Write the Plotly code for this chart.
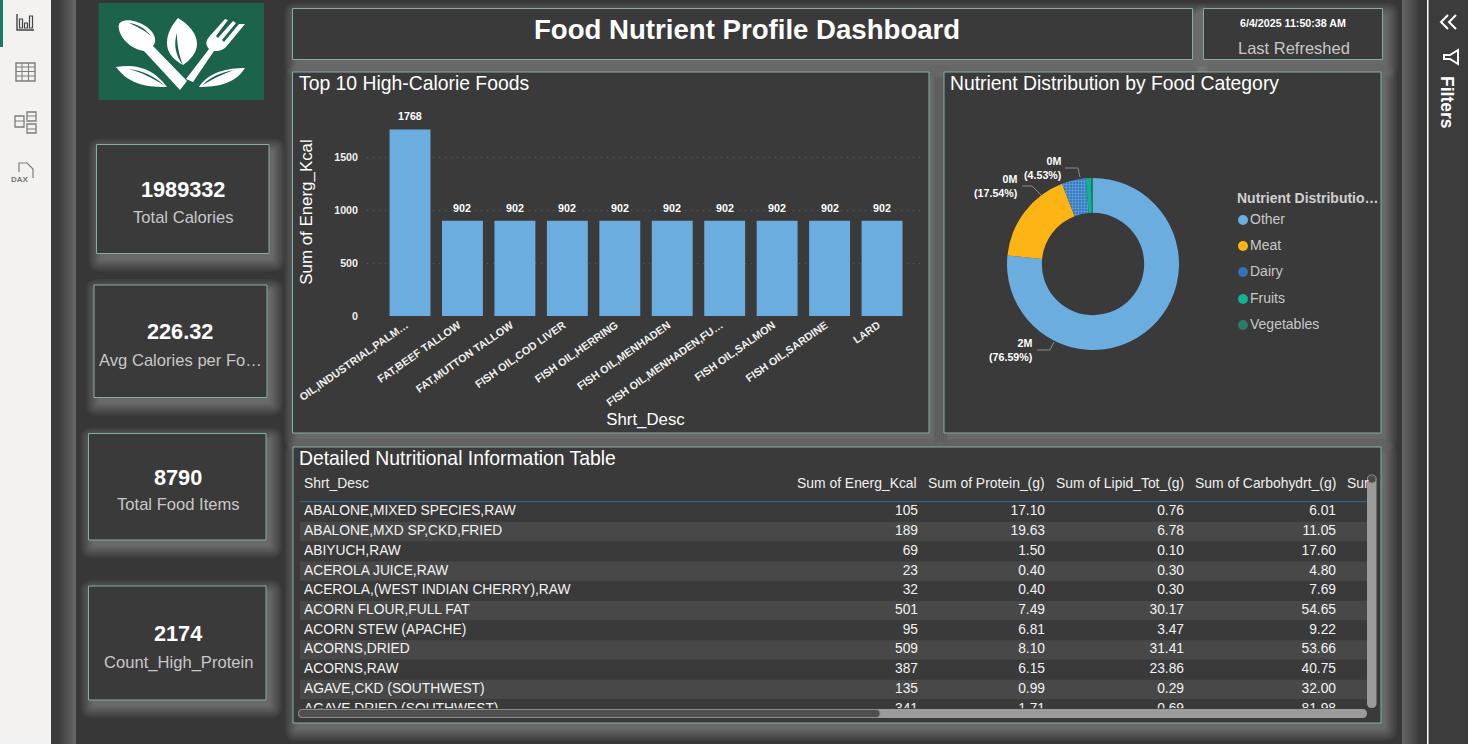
import re
import plotly.graph_objects as go

# ---------- data ----------
foods = ["OIL,INDUSTRIAL,PALM…", "FAT,BEEF TALLOW", "FAT,MUTTON TALLOW", "FISH OIL,COD LIVER",
         "FISH OIL,HERRING", "FISH OIL,MENHADEN", "FISH OIL,MENHADEN,FU…", "FISH OIL,SALMON",
         "FISH OIL,SARDINE", "LARD"]
food_kcal = [1768, 902, 902, 902, 902, 902, 902, 902, 902, 902]

donut_labels = ["Other", "Meat", "Dairy", "Fruits", "Vegetables"]
donut_values = [1523630, 348929, 90117, 19900, 6756]
donut_colors = ["#6CADE0", "#FDB515", "#3172B8", "#0DB48F", "#2A7C68"]

table_names = ["ABALONE,MIXED SPECIES,RAW", "ABALONE,MXD SP,CKD,FRIED", "ABIYUCH,RAW", "ACEROLA JUICE,RAW",
               "ACEROLA,(WEST INDIAN CHERRY),RAW", "ACORN FLOUR,FULL FAT", "ACORN STEW (APACHE)",
               "ACORNS,DRIED", "ACORNS,RAW", "AGAVE,CKD (SOUTHWEST)", "AGAVE,DRIED (SOUTHWEST)"]
table_kcal = [105, 189, 69, 23, 32, 501, 95, 509, 387, 135, 341]
table_protein = [17.10, 19.63, 1.50, 0.40, 0.40, 7.49, 6.81, 8.10, 6.15, 0.99, 1.71]
table_lipid = [0.76, 6.78, 0.10, 0.30, 0.30, 30.17, 3.47, 31.41, 23.86, 0.29, 0.69]
table_carb = [6.01, 11.05, 17.60, 4.80, 7.69, 54.65, 9.22, 53.66, 40.75, 32.00, 81.98]
table_headers = ["Shrt_Desc", "Sum of Energ_Kcal", "Sum of Protein_(g)", "Sum of Lipid_Tot_(g)",
                 "Sum of Carbohydrt_(g)", "Sur"]

cards = [("1989332", "Total Calories"), ("226.32", "Avg Calories per Fo…"),
         ("8790", "Total Food Items"), ("2174", "Count_High_Protein")]

# ---------- pixel helpers ----------
W, H = 1468, 744
FONT = "Liberation Sans"
def fx(x): return x / W
def fy(y): return 1 - y / H

def conv_path(p):
    n = [0]
    def rep(m):
        v = float(m.group(0))
        r = fx(v) if n[0] % 2 == 0 else fy(v)
        n[0] += 1
        return f"{r:.5f}"
    return re.sub(r"-?\d+\.?\d*", rep, p)

shapes, annots = [], []
def rect(x0, y0, x1, y1, fill=None, line=None, lw=1, layer="below"):
    shapes.append(dict(type="rect", xref="paper", yref="paper", x0=fx(x0), x1=fx(x1), y0=fy(y1), y1=fy(y0),
                       fillcolor=fill or "rgba(0,0,0,0)", line=dict(color=line or "rgba(0,0,0,0)", width=lw if line else 0),
                       layer=layer))
def path(p, fill=None, line=None, lw=1, layer="below"):
    shapes.append(dict(type="path", xref="paper", yref="paper", path=conv_path(p),
                       fillcolor=fill or "rgba(0,0,0,0)", line=dict(color=line or "rgba(0,0,0,0)", width=lw if line else 0),
                       layer=layer))
def rrect(x0, y0, x1, y1, r):
    return (f"M{x0+r} {y0} L{x1-r} {y0} Q{x1} {y0} {x1} {y0+r} L{x1} {y1-r} Q{x1} {y1} {x1-r} {y1} "
            f"L{x0+r} {y1} Q{x0} {y1} {x0} {y1-r} L{x0} {y0+r} Q{x0} {y0} {x0+r} {y0} Z")
def circle(cx, cy, r, fill, layer="below"):
    shapes.append(dict(type="circle", xref="paper", yref="paper", x0=fx(cx-r), x1=fx(cx+r), y0=fy(cy+r), y1=fy(cy-r),
                       fillcolor=fill, line=dict(width=0), layer=layer))
def text(x, y, s, size, color="#ffffff", bold=False, anchor="center", angle=0):
    annots.append(dict(xref="paper", yref="paper", x=fx(x), y=fy(y), text=f"<b>{s}</b>" if bold else s,
                       showarrow=False, xanchor=anchor, yanchor="middle", textangle=angle,
                       font=dict(family=FONT, size=size, color=color)))

# ---------- page chrome ----------
rect(0, 0, 51, H, "#f3f2f1")
rect(51, 0, 76, H, "#3c3c3c")
for i in range(1, 9):
    rect(76 - i * 2, 0, 76, H, "rgba(255,255,255,0.032)")
rect(76, 0, 1402, H, "#373737")
rect(1402, 0, 1427, H, "#3a3a3a")
for i in range(1, 9):
    rect(1402, 0, 1402 + i * 2, H, "rgba(255,255,255,0.032)")
rect(1428, 0, H * 2, H, "#3c3c3c")
rect(1427, 0, 1428.5, H, "#ffffff")

panels = [(292.5, 8.5, 1192.5, 59.5), (1203.5, 8.5, 1382.5, 59.5), (292.5, 72, 929, 433), (944, 72, 1381, 433),
          (293, 447, 1381, 723), (96.5, 144.5, 269, 253.5), (94, 285, 267, 397.5), (88.5, 433.5, 266, 540),
          (88.5, 586, 266, 700)]
for (a, b, c, d) in panels:
    for k in range(7):
        e = 12 - 2 * k
        path(rrect(a + 4 - e, b + 6 - e, c + 4 + e, d + 6 + e, max(e, 1)), "rgba(255,255,255,0.045)")
for (a, b, c, d) in panels:
    rect(a, b, c, d, "#3a3a3a", "#83AEA6", 1)

# left rail icons
rect(0, 0, 3, 47, "#1b7a62")
g = "#7d7d7d"
path("M17 14 L17 30 L34 30", None, "#444444", 1.4)
for a, b in [(19.5, 19), (24.5, 23), (29.5, 16)]:
    rect(a, b, a + 3, 28, None, "#444444", 1.2)
rect(16, 63, 35, 81, None, g, 1.4)
for y in (67, 71.5, 76):
    path(f"M16 {y} L35 {y}", None, g, 1)
for x in (22, 28.5):
    path(f"M{x} 63 L{x} 81", None, g, 1)
rect(15, 116, 24, 127, None, g, 1.3)
rect(27, 112, 36, 121, None, g, 1.3)
rect(27, 124, 36, 133, None, g, 1.3)
path("M15 121 L24 121 M27 116 L36 116 M27 129 L36 129", None, g, 1)
path("M19 172 L19 163 L27 163 L33 169 L33 178", None, g, 1.2)
text(20, 179, "DAX", 8, "#777777", True)

# right pane icons
path("M1448 15 L1441 22 L1448 29 M1456 15 L1449 22 L1456 29", None, "#ffffff", 2, "above")
path("M1458 50 L1450 55 L1444 55 L1444 59 L1450 59 L1458 64 Z", None, "#ffffff", 2, "above")
text(1447, 102, "Filters", 17.5, "#ffffff", True, angle=90)

# logo
rect(98.5, 3, 264, 100, "#1b634b")
wh = "#ffffff"
green = "#1b634b"
path("M119 24 C122 18 136 19 147 27 C156 34 157 42 153 46 L187 81 L180 90 L144 51 C135 50 125 43 121 35 C119 31 118 27 119 24 Z", wh)
path("M129 23 C138 24 146 29 151 36 C144 30 136 26 129 23 Z", green)
path("M186 79 L209 49 C205 44 206 41 209 37 L225 19 L228 20 L216 36 L218 38 L233 21 L236 23 L222 40 L224 42 L239 24 L245 24 L226 47 C222 51 218 51 214 51 L193 82 Z", wh)
path("M178 18 C188 24 197 33 197 44 C197 53 190 60 183 65 C172 59 167 52 167 43 C167 33 172 25 178 18 Z", wh)
path("M177 33 C173 45 176 56 183 65 C179 55 177 45 177 33 Z", green)
path("M116 67 C132 64 152 66 167 87 C150 87 130 86 116 67 Z", wh)
path("M128 69 C142 70 156 77 165 86 C153 78 141 72 128 69 Z", green)
path("M245 68 C228 68 208 72 199 87 C217 87 235 84 245 68 Z", wh)
path("M234 70 C222 72 208 78 203 85 C212 79 223 74 234 70 Z", green)

# titles and cards
text(747, 29.5, "Food Nutrient Profile Dashboard", 27.6, "#ffffff", True)
text(1293, 23, "6/4/2025 11:50:38 AM", 10.7, "#ffffff", True)
text(1294, 48, "Last Refreshed", 16.5, "#c8c8c8")
text(296.5, 83, "Top 10 High-Calorie Foods", 19.35, anchor="left")
text(947.5, 83, "Nutrient Distribution by Food Category", 19.35, anchor="left")
text(296.5, 458, "Detailed Nutritional Information Table", 19.35, anchor="left")
card_pos = [(183, 189, 218), (180, 331.5, 360), (178, 477, 505), (178, 633, 662)]
for (v, l), (cx, y1, y2) in zip(cards, card_pos):
    text(cx, y1, v, 21.7, "#ffffff", True)
    text(cx, y2, l, 16.6, "#c8c8c8")

# donut labels and legend
total = sum(donut_values)
lbl_pos = [(1035, 349.5, "M1037 350 L1050 350 L1054 342"), (1020, 186, "M1022 186 L1032 186 L1041 195"),
           (1064, 168, "M1065 168 L1078 168 L1080 177")]
for i, (x, y, leader) in enumerate(lbl_pos):
    s = f"{donut_values[i] / 1e6:.0f}M<br>({donut_values[i] / total * 100:.2f}%)"
    annots.append(dict(xref="paper", yref="paper", x=fx(x), y=fy(y), text=f"<b>{s}</b>", showarrow=False, xanchor="right",
                       yanchor="middle", align="right", font=dict(family=FONT, size=10.7, color="#ffffff")))
    path(leader, None, "#8a8a8a", 1, "above")
text(1235, 198, "Nutrient Distributio…", 14, "#d0d0d0", True, anchor="left")
for name, col, y in zip(donut_labels, donut_colors, [219, 245, 271, 298, 324]):
    circle(1243, y + 1, 5, col)
    text(1248, y, name, 14, "#c8c8c8", anchor="left")

# table header and scrollbars
hdr_x = [(302, "left"), (919, "right"), (1047, "right"), (1186, "right"), (1338, "right"), (1345, "left")]
for s, (x, a) in zip(table_headers, hdr_x):
    text(x, 483, s, 13.9, "#f0f0f0", anchor=a)
path("M300 501.7 L1367 501.7", None, "#2f6c9c", 1, "above")
path(rrect(298, 709, 1367, 718, 4.5), "#9b9b9b", None, 0, "above")
path(rrect(298.5, 709.5, 880, 717.5, 4), "#4e4e4e", "#8c8c8c", 1, "above")
path(rrect(1367, 475, 1376.5, 708, 4.7), "#9b9b9b", None, 0, "above")
path(rrect(1367.5, 475, 1376, 483, 4), "#4a4a4a", "#8c8c8c", 1, "above")

# value labels over the bars, placed from the bar's own data values
for f, v in zip(foods, food_kcal):
    annots.append(dict(xref="x", yref="y", x=f, y=v, text=f"<b>{v}</b>", showarrow=False, yanchor="bottom", yshift=5,
                       font=dict(family=FONT, size=10.7, color="#ffffff")))

# ---------- figure ----------
fig = go.Figure()

# bar chart
fig.add_trace(go.Bar(x=foods, y=food_kcal, marker=dict(color="#6CADE0", line=dict(width=0)), width=0.78,
                     xaxis="x", yaxis="y", showlegend=False, hoverinfo="skip"))

# donut
fig.add_trace(go.Pie(labels=donut_labels, values=donut_values, hole=0.595, sort=False, direction="clockwise", rotation=0,
                     domain=dict(x=[fx(1007), fx(1179)], y=[fy(350), fy(178)]), textinfo="none", showlegend=False,
                     hoverinfo="skip",
                     marker=dict(colors=donut_colors, line=dict(width=0),
                                 pattern=dict(shape=["", "", ".", "", ""], fgcolor="#5FA3DC", bgcolor="#2F6FB6",
                                              size=3, solidity=0.5))))

# table as text on a dedicated subplot
rows = list(range(len(table_names)))
zebra = rows[1::2]
fig.add_trace(go.Bar(y=zebra[:5], x=[1067] * 5, base=300, orientation="h", width=0.98, marker=dict(color="#484848", line=dict(width=0)),
                     xaxis="x2", yaxis="y2", showlegend=False, hoverinfo="skip"))
columns = [(table_names, 304, "middle right", str), (table_kcal, 918, "middle left", str),
           (table_protein, 1045, "middle left", "{:.2f}".format), (table_lipid, 1184, "middle left", "{:.2f}".format),
           (table_carb, 1336, "middle left", "{:.2f}".format)]
for vals, x, pos, f in columns:
    fig.add_trace(go.Scatter(x=[x] * len(rows), y=rows, text=[f(v) for v in vals], mode="text", textposition=pos,
                             textfont=dict(family=FONT, size=13.8, color="#f2f2f2"), cliponaxis=True,
                             xaxis="x2", yaxis="y2", showlegend=False, hoverinfo="skip"))

fig.update_layout(
    width=W, height=H, margin=dict(l=0, r=0, t=0, b=0), autosize=False,
    paper_bgcolor="#373737", plot_bgcolor="rgba(0,0,0,0)", showlegend=False, hovermode=False,
    font=dict(family=FONT, color="#ffffff"), shapes=shapes, annotations=annots,
    xaxis=dict(domain=[fx(367), fx(924)], range=[-0.82, 9.8], anchor="y", type="category", showgrid=False, tickangle=-35,
               ticklabelshift=-4,
               tickfont=dict(family=FONT, size=10.8, color="#f0f0f0", weight="bold"), ticks="", showline=False, zeroline=False,
               title=dict(text="Shrt_Desc", font=dict(family=FONT, size=16.8, color="#ffffff"), standoff=5), automargin=False),
    yaxis=dict(domain=[fy(316), fy(108)], range=[0, 1971], anchor="x", tickvals=[0, 500, 1000, 1500], showgrid=True, griddash="1px,5px",
               gridcolor="#5c5c5c", gridwidth=1, zeroline=False, showline=False, ticks="", ticklabelstandoff=8,
               tickfont=dict(family=FONT, size=10.7, color="#f0f0f0", weight="bold"),
               title=dict(text="Sum of Energ_Kcal", font=dict(family=FONT, size=16.9, color="#ffffff"), standoff=17), automargin=False),
    xaxis2=dict(domain=[fx(300), fx(1367)], range=[300, 1367], anchor="y2", visible=False, fixedrange=True),
    yaxis2=dict(domain=[fy(708.3), fy(502)], range=[9.96, -0.507], anchor="x2", visible=False, fixedrange=True),
    bargap=0.22,
)

fig.write_html("out.html", config=dict(displayModeBar=False),
               post_script="document.body.style.margin='0';document.body.style.overflow='hidden';")
